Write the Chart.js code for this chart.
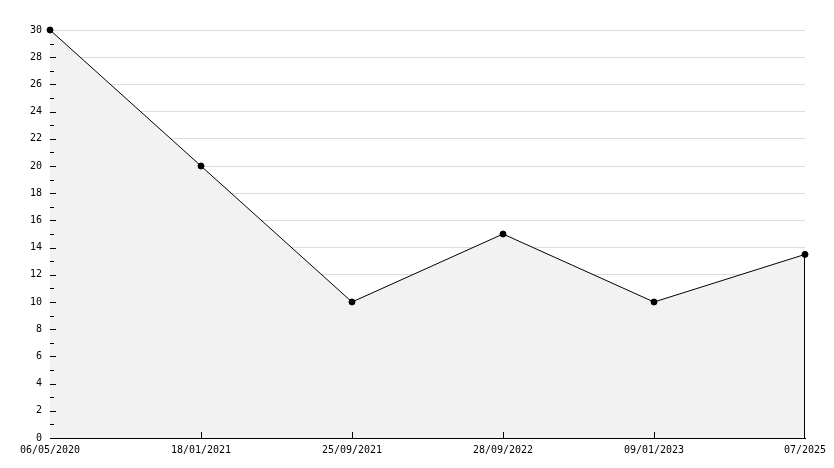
<!DOCTYPE html>
<html>
<head>
<meta charset="utf-8">
<script src="https://cdn.jsdelivr.net/npm/chart.js@4/dist/chart.umd.min.js"></script>
<style>
    html, body { margin: 0; padding: 0; background: #fff; }
    #wrap { width: 834px; height: 468px; }
</style>
</head>
<body>
<div id="wrap"><canvas id="chart-line"></canvas></div>
<script>
// Chart data
const dates = ['06/05/2020', '18/01/2021', '25/09/2021', '28/09/2022', '09/01/2023', '07/2025'];
const values = [30, 20, 10, 15, 10, 13.5];
const yMin = 0;
const yMax = 30;

const FONT = { family: "'DejaVu Sans Mono', monospace", size: 10 };

// inner ticks on both axes + closing edge of the filled area
const innerTicks = {
    id: 'innerTicks',
    beforeDatasetsDraw(chart) {
        const { ctx, scales: { x, y } } = chart;
        ctx.save();
        ctx.strokeStyle = '#000';
        ctx.lineWidth = 1;
        ctx.beginPath();
        const last = dates.length - 1;
        const ex = Math.round(x.getPixelForValue(last)) - 0.5;
        ctx.moveTo(ex, y.getPixelForValue(values[last]));
        ctx.lineTo(ex, y.bottom);
        ctx.stroke();
        ctx.restore();
    },
    afterDatasetsDraw(chart) {
        const { ctx, scales: { x, y } } = chart;
        ctx.save();
        ctx.strokeStyle = '#000';
        ctx.lineWidth = 1;
        ctx.beginPath();
        for (let v = yMin + 1; v < yMax; v++) {
            const py = Math.round(y.getPixelForValue(v)) + 0.5;
            const len = v % 2 === 0 ? 6 : 4;
            ctx.moveTo(x.left, py);
            ctx.lineTo(x.left + len, py);
        }
        for (let i = 1; i < dates.length - 1; i++) {
            const px = Math.round(x.getPixelForValue(i)) + 0.5;
            ctx.moveTo(px, y.bottom);
            ctx.lineTo(px, y.bottom - 6);
        }
        const last = dates.length - 1;
        const ex = Math.round(x.getPixelForValue(last)) - 0.5;
        ctx.moveTo(ex, y.getPixelForValue(values[last]));
        ctx.lineTo(ex, y.bottom);
        ctx.stroke();
        ctx.restore();
    }
};

new Chart(document.getElementById('chart-line').getContext('2d'), {
    type: 'line',
    data: {
        labels: dates,
        datasets: [{
            data: values,
            borderColor: '#000',
            borderWidth: 1,
            backgroundColor: '#f2f2f2',
            fill: 'origin',
            tension: 0,
            clip: false,
            pointRadius: 3,
            pointBackgroundColor: '#000',
            pointBorderColor: '#000',
            pointBorderWidth: 1
        }]
    },
    options: {
        responsive: true,
        maintainAspectRatio: false,
        animation: false,
        events: [],
        layout: { padding: { top: 30, right: 29, left: 0, bottom: 0 } },
        plugins: { legend: { display: false }, tooltip: { enabled: false } },
        scales: {
            x: {
                offset: false,
                afterFit: s => { s.height = 30; },
                grid: { display: false, drawTicks: false },
                border: { color: '#000', width: 1 },
                ticks: { color: '#000', font: FONT, padding: 6, maxRotation: 0, autoSkip: false }
            },
            y: {
                min: yMin,
                max: yMax,
                afterFit: s => { s.width = 50; },
                grid: {
                    drawTicks: false,
                    color: c => (c.tick && c.tick.value % 2 === 0 ? '#dcdcdc' : 'rgba(0,0,0,0)')
                },
                border: { color: '#000', width: 1 },
                ticks: {
                    stepSize: 1,
                    color: '#000',
                    font: FONT,
                    padding: 8,
                    autoSkip: false,
                    callback: v => (v % 2 === 0 ? String(v) : '')
                }
            }
        }
    },
    plugins: [innerTicks]
});
</script>
</body>
</html>
